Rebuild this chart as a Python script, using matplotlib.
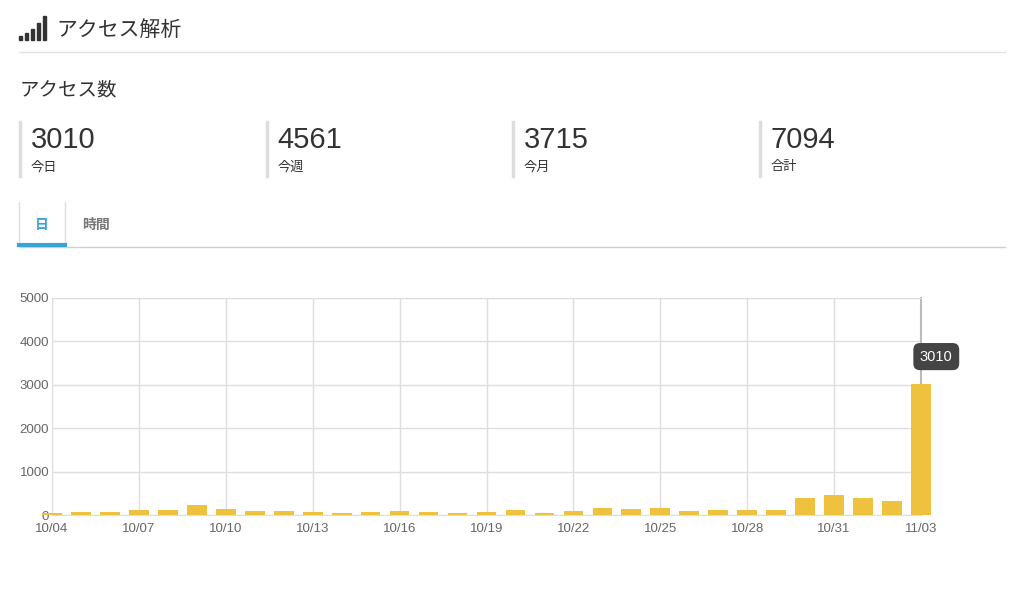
import matplotlib
matplotlib.use("Agg")
import matplotlib.pyplot as plt
from matplotlib.lines import Line2D
from matplotlib.patches import Rectangle

plt.rcParams["font.family"] = ["Liberation Sans", "Noto Sans CJK JP", "DejaVu Sans"]

# データ
dates = ["10/04", "10/05", "10/06", "10/07", "10/08", "10/09", "10/10", "10/11",
         "10/12", "10/13", "10/14", "10/15", "10/16", "10/17", "10/18", "10/19",
         "10/20", "10/21", "10/22", "10/23", "10/24", "10/25", "10/26", "10/27",
         "10/28", "10/29", "10/30", "10/31", "11/01", "11/02", "11/03"]
visits = [45, 70, 60, 115, 125, 230, 140, 100, 90, 60, 45, 60, 85, 70, 55, 60,
          115, 45, 85, 170, 140, 155, 100, 125, 115, 115, 400, 460, 390, 320, 3010]
stat_values = ["3010", "4561", "3715", "7094"]
stat_labels = ["今日", "今週", "今月", "合計"]
tabs = ["日", "時間"]

BAR = "#eec23f"
GRID = "#dedede"
TEXT = "#333333"
DIM = "#666666"
W, H = 1024, 592

fig = plt.figure(figsize=(W / 100, H / 100), dpi=100, facecolor="white")


def fx(px):
    return px / W


def fy(py):
    return 1 - py / H


# ヘッダー: 電波アイコン + タイトル
for i, h in enumerate([4, 7, 11, 17, 24]):
    fig.patches.append(Rectangle((fx(19 + i * 6), fy(40)), fx(3), h / H,
                                 transform=fig.transFigure, color=TEXT))
fig.text(fx(56), fy(30), "アクセス解析", fontsize=15, color=TEXT, va="center")
fig.add_artist(Line2D([fx(19), fx(1005)], [fy(52), fy(52)], color="#e2e2e2", lw=1))

fig.text(fx(20), fy(91), "アクセス数", fontsize=14, color=TEXT, va="center")

# 集計値
for i, (v, lab) in enumerate(zip(stat_values, stat_labels)):
    x0 = 20 + i * 246.5
    fig.add_artist(Line2D([fx(x0), fx(x0)], [fy(122), fy(176)], color="#dddddd", lw=2.5))
    fig.text(fx(x0 + 11), fy(140), v, fontsize=21, color=TEXT, va="center")
    fig.text(fx(x0 + 11), fy(167), lab, fontsize=9.5, color=TEXT, va="center")

# タブ
fig.add_artist(Line2D([fx(19), fx(1005)], [fy(247), fy(247)], color="#c9d3d6", lw=1))
fig.add_artist(Line2D([fx(19), fx(19)], [fy(202), fy(247)], color="#dddddd", lw=1))
fig.add_artist(Line2D([fx(65), fx(65)], [fy(202), fy(247)], color="#dddddd", lw=1))
fig.add_artist(Line2D([fx(19), fx(65)], [fy(245), fy(245)], color="#3aa3d6", lw=3))
fig.text(fx(42), fy(225), tabs[0], fontsize=10, color="#3aa3d6", ha="center",
         va="center", fontweight="bold")
fig.text(fx(96), fy(225), tabs[1], fontsize=10, color="#777777", ha="center",
         va="center", fontweight="bold")

# 棒グラフ
ax = fig.add_axes([fx(52), fy(515), fx(921 - 52), (515 - 298) / H])
x = list(range(len(dates)))
ax.bar(x, visits, width=0.68, color=BAR, clip_on=False, zorder=3)
ax.set_xlim(0, len(dates) - 1)
ax.set_ylim(0, 5000)
ax.set_yticks(range(0, 5001, 1000))
ax.set_xticks(x[::3])
ax.set_xticklabels(dates[::3])
ax.grid(True, color=GRID, lw=1, zorder=0)
for s in ax.spines.values():
    s.set_color(GRID)
ax.spines["right"].set_color("#bbbbbb")
ax.spines["right"].set_linewidth(1.5)
ax.tick_params(length=0, labelsize=9.5, colors=DIM, pad=6)
ax.tick_params(axis="y", pad=2)

# ツールチップ
ax.annotate(str(visits[-1]), xy=(x[-1], visits[-1]), xytext=(11, 20),
            textcoords="offset points", ha="center", va="center",
            fontsize=10.5, color="white",
            bbox=dict(boxstyle="round,pad=0.45", fc="#444444", ec="none"))

fig.savefig("out.png", dpi=100, facecolor="white")
